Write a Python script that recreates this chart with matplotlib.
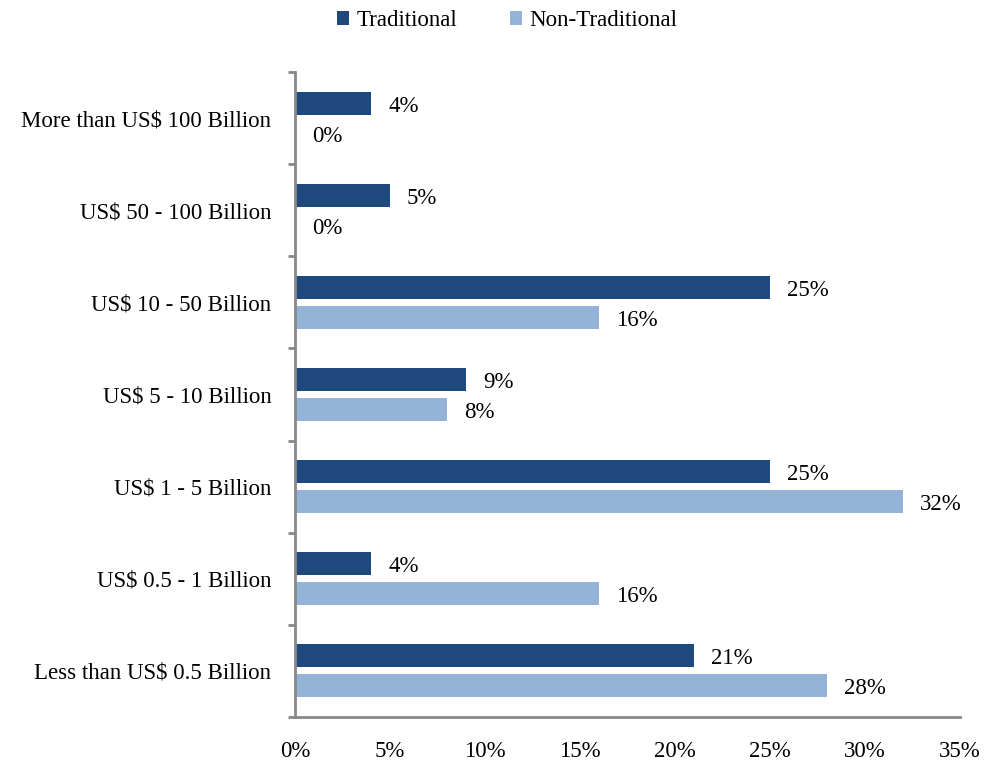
import matplotlib

matplotlib.use("Agg")
import matplotlib.pyplot as plt
import numpy as np

# ── Data ──────────────────────────────────────────────────────────────────────

CATEGORIES = [
    "Less than US$ 0.5 Billion",
    "US$ 0.5 - 1 Billion",
    "US$ 1 - 5 Billion",
    "US$ 5 - 10 Billion",
    "US$ 10 - 50 Billion",
    "US$ 50 - 100 Billion",
    "More than US$ 100 Billion",
]
TRADITIONAL = [21, 4, 25, 9, 25, 5, 4]
NON_TRADITIONAL = [28, 16, 32, 8, 16, 0, 0]
X_TICKS = [0, 5, 10, 15, 20, 25, 30, 35]

# ── Style ─────────────────────────────────────────────────────────────────────

DARK = "#1F497D"
LIGHT = "#95B3D7"
AXIS_GRAY = "#888888"
FONT = ["Liberation Serif", "DejaVu Serif"]
FS = 16.5

plt.rcParams["font.family"] = FONT

fig = plt.figure(figsize=(9.98, 7.63), dpi=100)
ax = fig.add_axes([0.2956, 0.0603, 0.6664, 0.8453])

y = np.arange(len(CATEGORIES))
off = 0.163
h = 0.25

b1 = ax.barh(y + off, TRADITIONAL, height=h, color=DARK, label="Traditional")
b2 = ax.barh(y - off, NON_TRADITIONAL, height=h, color=LIGHT, label="Non-Traditional")

# value labels just right of each bar end
for bars, vals in ((b1, TRADITIONAL), (b2, NON_TRADITIONAL)):
    for bar, v in zip(bars, vals):
        ax.annotate(
            f"{v}%",
            xy=(bar.get_width(), bar.get_y() + bar.get_height() / 2),
            xytext=(17, -3),
            textcoords="offset pixels",
            ha="left",
            va="center",
            fontsize=FS,
            color="black",
        )

ax.set_xlim(0, 35)
ax.set_ylim(-0.5, len(CATEGORIES) - 0.5)

ax.set_xticks(X_TICKS)
ax.set_xticklabels([f"{t}%" for t in X_TICKS], fontsize=FS)
ax.tick_params(axis="x", length=0, pad=17)

# category labels centred on each group, separator ticks between groups
ax.set_yticks(y)
ax.set_yticklabels(CATEGORIES, fontsize=FS)
ax.set_yticks(np.arange(len(CATEGORIES) + 1) - 0.5, minor=True)
ax.tick_params(axis="y", which="major", length=0, pad=17)
ax.tick_params(axis="y", which="minor", length=5, width=2, color=AXIS_GRAY,
               direction="out")

for side in ("top", "right"):
    ax.spines[side].set_visible(False)
for side in ("left", "bottom"):
    ax.spines[side].set_color(AXIS_GRAY)
    ax.spines[side].set_linewidth(2)

fig.legend(
    handles=[b1, b2],
    loc="upper center",
    bbox_to_anchor=(0.508, 1.014),
    ncol=2,
    frameon=False,
    fontsize=FS,
    handlelength=0.55,
    handleheight=0.55,
    handletextpad=0.3,
    columnspacing=2.3,
)

fig.savefig("out.png", dpi=100)
